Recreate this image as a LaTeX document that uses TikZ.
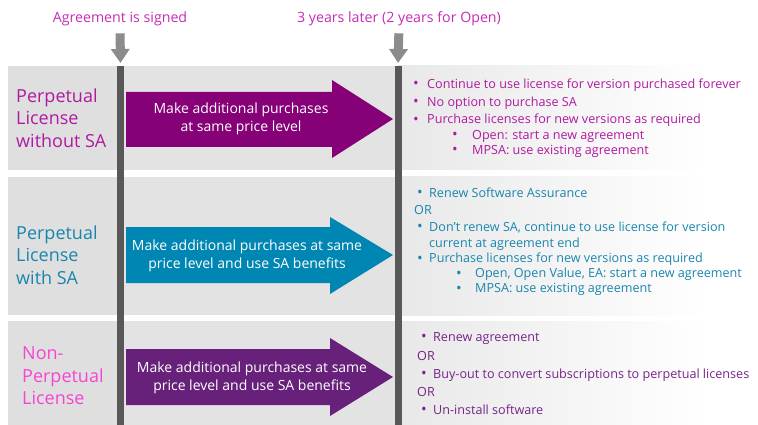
\documentclass[tikz,border=0pt]{standalone}
\usepackage{fontspec}
\setmainfont{Open Sans}
\usetikzlibrary{arrows.meta}

\definecolor{toplab}{RGB}{196,44,182}
\definecolor{arrowA}{RGB}{134,0,120}
\definecolor{textA}{RGB}{176,26,160}
\definecolor{arrowB}{RGB}{0,134,178}
\definecolor{textB}{RGB}{26,134,174}
\definecolor{arrowC}{RGB}{104,33,122}
\definecolor{labC}{RGB}{245,70,210}
\definecolor{textC}{RGB}{118,36,136}
\definecolor{bargray}{RGB}{88,88,88}
\definecolor{tickgray}{RGB}{140,140,140}

\newcommand{\bul}[1][13pt]{\makebox[#1][l]{\raisebox{-0.4pt}{\fontsize{15}{14}\selectfont\textbullet}}}

\tikzset{
  x=1pt, y=-1pt,
  toptext/.style={font=\fontsize{14.2}{17}\selectfont, text=toplab, inner sep=0pt},
  timetick/.style={draw=tickgray, line width=9pt, -{Triangle[width=18pt,length=14pt]}},
  bar/.style={draw=bargray, line width=7pt},
  rowlabel/.style={font=\fontsize{18}{22.5}\selectfont, align=left, anchor=west, inner sep=0pt},
  arrowtext/.style={font=\fontsize{14}{17.5}\selectfont, align=center, text=white, inner sep=0pt},
  item/.style={font=\fontsize{12.6}{14}\selectfont, anchor=west, inner sep=0pt,
    text height=9pt, text depth=2.2pt}
}

\begin{document}
\begin{tikzpicture}
\useasboundingbox (0,0) rectangle (758,425);

% row backgrounds
\fill[gray!25] (8,66) rectangle (117,170);
\fill[gray!22] (117,66) rectangle (398,170);
\shade[left color=gray!18, right color=white] (398,66) rectangle (705,170);
\fill[gray!25] (8,177) rectangle (117,315);
\fill[gray!22] (117,177) rectangle (398,315);
\shade[left color=gray!18, right color=white] (398,177) rectangle (705,315);
\fill[gray!25] (8,321) rectangle (117,425);
\fill[gray!22] (117,321) rectangle (398,425);
\shade[left color=gray!18, right color=white] (398,321) rectangle (705,425);

% time line labels and markers
\node[toptext] (signed) at (120,19) {Agreement is signed};
\node[toptext] (later) at (399,19) {3 years later (2 years for Open)};
\coordinate (bar1) at (120.5,66);
\coordinate (bar1end) at (120.5,425);
\coordinate (bar2) at (398,66);
\coordinate (bar2end) at (398,425);
\draw[timetick, shorten <=7pt, shorten >=3pt] (signed.south) -- (bar1);
\draw[timetick, shorten <=7pt, shorten >=3pt] (later.south) -- (bar2);
\draw[bar] (bar1) -- (bar1end);
\draw[bar] (bar2) -- (bar2end);

% row 1
\node[rowlabel, text=textA] (lab1) at (16,118) {Perpetual\\License\\without SA};
\fill[arrowA] (126,92) -- (332,92) -- (332,80) -- (393,119) -- (332,158) -- (332,147) -- (126,147) -- cycle;
\node[arrowtext] (buy1) at (241,119) {Make additional purchases\\at same price level};
\node[item, text=textA] (a1) at (413,85) {\bul[14pt]Continue to use license for version purchased forever};
\node[item, text=textA] (a2) at (413,103) {\bul[14pt]No option to purchase SA};
\node[item, text=textA] (a3) at (413,120.5) {\bul[14pt]Purchase licenses for new versions as required};
\node[item, text=textA] (a4) at (452,136) {\bul[20pt]Open: start a new agreement};
\node[item, text=textA] (a5) at (452,151) {\bul[20pt]MPSA: use existing agreement};

% row 2
\node[rowlabel, text=textB] (lab2) at (16,255) {Perpetual\\License\\with SA};
\fill[arrowB] (126,227) -- (330,227) -- (330,217) -- (393,255) -- (330,294) -- (330,283) -- (126,283) -- cycle;
\node[arrowtext] (buy2) at (247,256) {Make additional purchases at same\\price level and use SA benefits};
\node[item, text=textB] (b1) at (417,194) {\bul[12pt]Renew Software Assurance};
\node[item, text=textB] (b2) at (414,211) {OR};
\node[item, text=textB] (b3) at (417,228) {\bul[12pt]Don’t renew SA, continue to use license for version};
\node[item, text=textB] (b4) at (429,244) {current at agreement end};
\node[item, text=textB] (b5) at (417,259.5) {\bul[12pt]Purchase licenses for new versions as required};
\node[item, text=textB] (b6) at (456,274.5) {\bul[19pt]Open, Open Value, EA: start a new agreement};
\node[item, text=textB] (b7) at (456,289.5) {\bul[19pt]MPSA: use existing agreement};

% row 3
\node[rowlabel, text=labC] (lab3) at (22,376) {Non-\\Perpetual\\License};
\fill[arrowC] (126,349) -- (330,349) -- (330,338) -- (393,377) -- (330,416) -- (330,405) -- (126,405) -- cycle;
\node[arrowtext] (buy3) at (252,378) {Make additional purchases at same\\price level and use SA benefits};
\node[item, text=textC] (c1) at (421,338) {\bul[12pt]Renew agreement};
\node[item, text=textC] (c2) at (417,357) {OR};
\node[item, text=textC] (c3) at (421,375) {\bul[12pt]Buy-out to convert subscriptions to perpetual licenses};
\node[item, text=textC] (c4) at (417,393) {OR};
\node[item, text=textC] (c5) at (421,411) {\bul[12pt]Un-install software};
\end{tikzpicture}
\end{document}
